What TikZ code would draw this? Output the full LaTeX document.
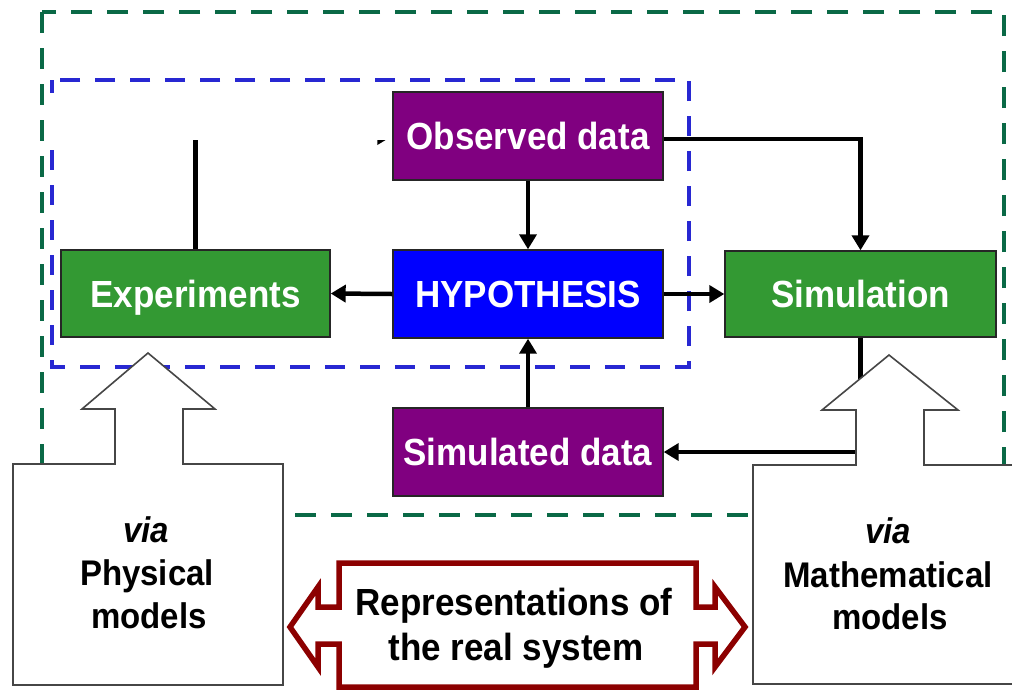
\documentclass[tikz,border=0pt]{standalone}
\usepackage{fontspec}
\setmainfont{Liberation Sans}
\usepackage{graphicx}
\usetikzlibrary{arrows.meta}
\definecolor{boxpurple}{RGB}{128,0,128}
\definecolor{boxblue}{RGB}{0,0,255}
\definecolor{boxgreen}{RGB}{51,153,51}
\definecolor{dashgreen}{RGB}{10,105,70}
\definecolor{dashblue}{RGB}{40,40,210}
\definecolor{darkred}{RGB}{140,0,0}
\definecolor{calloutgray}{RGB}{70,70,70}
\newcommand{\ys}[1]{\scalebox{1}[1.08]{#1}}
\begin{document}
\begin{tikzpicture}[x=1pt,y=-1pt,
  box/.style={draw=black!85, line width=1.4pt, minimum width=270pt, minimum height=88pt,
    inner sep=0pt, text=white, font=\fontsize{35}{40}\selectfont\bfseries,
    text height=27pt, text depth=0pt},
  conn/.style={line width=4.5pt, -{Triangle[width=17pt,length=15pt]}},
  greendash/.style={draw=dashgreen, line width=4.5pt, dash pattern=on 21pt off 15pt},
  bluedash/.style={draw=dashblue, line width=4.5pt, dash pattern=on 20pt off 15pt},
  callout/.style={draw=calloutgray, line width=1.6pt, fill=white, line join=miter},
  dblarrow/.style={draw=darkred, line width=5.5pt, fill=white, line join=miter},
  ctext/.style={anchor=base, inner sep=0pt, font=\fontsize{33}{40}\selectfont\bfseries},
  btext/.style={anchor=base, inner sep=0pt, font=\fontsize{35}{40}\selectfont\bfseries}]
\useasboundingbox (0,0) rectangle (1012,689);
\fill[white] (0,0) rectangle (1012,689);

% dashed frames
\draw[greendash] (42,12) rectangle (1004,515);
\draw[bluedash] (52,80) rectangle (689,367);

% boxes
\node[box, fill=boxpurple] (obs) at (528,136) {\ys{Observed data}};
\node[box, fill=boxblue] (hyp) at (528,294) {\ys{HYPOTHESIS}};
\node[box, fill=boxgreen, minimum width=269pt, minimum height=87pt] (exp) at (195.5,293.5) {\ys{Experiments}};
\node[box, fill=boxgreen, minimum width=271pt, minimum height=86pt] (sim) at (860.5,294) {\ys{Simulation}};
\node[box, fill=boxpurple] (sdat) at (528,452) {\ys{Simulated data}};

% connectors
\draw[conn] (obs.south) -- (hyp.north);
\draw[conn] (hyp.west) -- (exp.east);
\draw[conn] (hyp.east) -- (sim.west);
\draw[conn] (sdat.north) -- (hyp.south);
\draw[conn] ([yshift=-3pt]obs.east) -| (sim.north);
\draw[conn] (sim.south) |- (sdat.east);
\draw[conn] (exp.north) |- (obs.west);

% white patch hiding part of the upper-left region
\fill[white] (43.5,93) rectangle (392,139.5);

% callout arrows
\draw[callout] (13,464) -- (115,464) -- (115,409) -- (82,409) -- (148,353) -- (215,409)
  -- (183,409) -- (183,464) -- (283,464) -- (283,685) -- (13,685) -- cycle;
\draw[callout] (753,465) -- (856,465) -- (856,410) -- (822,410) -- (889,355) -- (958,410)
  -- (924,410) -- (924,465) -- (1016,465) -- (1016,684) -- (753,684) -- cycle;

% double arrow
\draw[dblarrow] (339,563) -- (696,563) -- (696,607) -- (715,607) -- (715,587) -- (745,627)
  -- (715,667) -- (715,644) -- (696,644) -- (696,687) -- (339,687) -- (339,644)
  -- (318,644) -- (318,667) -- (290,627) -- (318,587) -- (318,607) -- (339,607) -- cycle;

% texts
\node[ctext] (lvia) at (146,542) {\ys{\textit{via}}};
\node[ctext] (lphys) at (147,585) {\ys{Physical}};
\node[ctext] (lmod) at (149,628) {\ys{models}};
\node[ctext] (rvia) at (888,543) {\ys{\textit{via}}};
\node[ctext] (rmath) at (888,587) {\ys{Mathematical}};
\node[ctext] (rmod) at (890,629) {\ys{models}};
\node[btext] (rep1) at (514,615) {\ys{Representations of}};
\node[btext] (rep2) at (516,660) {\ys{the real system}};
\end{tikzpicture}
\end{document}
